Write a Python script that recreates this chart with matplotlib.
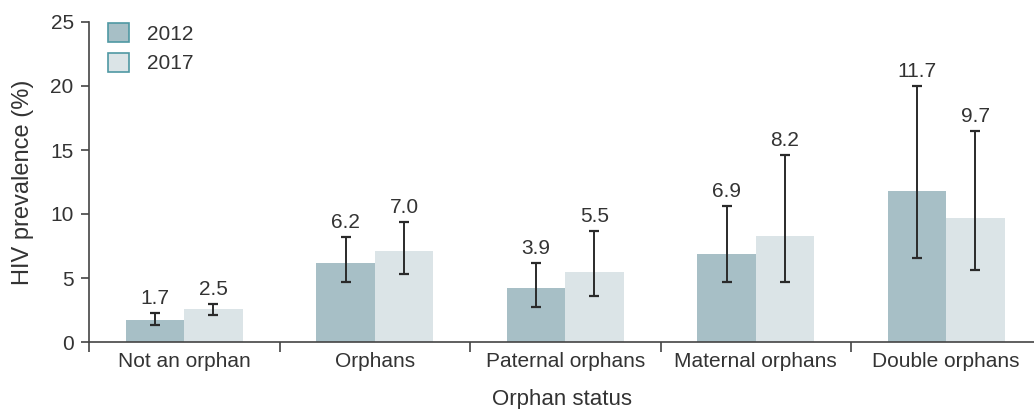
import matplotlib
matplotlib.use("Agg")
import matplotlib.pyplot as plt
import numpy as np

categories = ["Not an orphan", "Orphans", "Paternal orphans", "Maternal orphans", "Double orphans"]
years = ["2012", "2017"]
vals_2012 = [1.7, 6.2, 4.2, 6.85, 11.8]
vals_2017 = [2.55, 7.1, 5.5, 8.25, 9.7]
labels_2012 = ["1.7", "6.2", "3.9", "6.9", "11.7"]
labels_2017 = ["2.5", "7.0", "5.5", "8.2", "9.7"]
lo_2012 = [1.35, 4.7, 2.7, 4.65, 6.55]
hi_2012 = [2.3, 8.2, 6.2, 10.6, 20.0]
lo_2017 = [2.1, 5.35, 3.6, 4.7, 5.6]
hi_2017 = [3.0, 9.4, 8.7, 14.6, 16.5]

c2012 = "#a7bfc6"
c2017 = "#dbe4e7"
edge_leg = "#4f98a3"
txt = "#333333"
plt.rcParams['font.family'] = ['Liberation Sans', 'DejaVu Sans']

fig = plt.figure(figsize=(10.34, 4.09), dpi=100)
ax = fig.add_axes([89/1034, (409-342)/409, (1034-89)/1034, 320/409])

x = np.arange(len(categories))
w = 0.307
v12 = np.array(vals_2012); v17 = np.array(vals_2017)
ax.bar(x - w/2, v12, w, color=c2012, label=years[0])
ax.bar(x + w/2, v17, w, color=c2017, label=years[1])
err_kw = dict(fmt='none', ecolor='#2a2a2a', elinewidth=1.4, capsize=3.4, capthick=1.6)
ax.errorbar(x - w/2, v12, yerr=[v12 - np.array(lo_2012), np.array(hi_2012) - v12], **err_kw)
ax.errorbar(x + w/2, v17, yerr=[v17 - np.array(lo_2017), np.array(hi_2017) - v17], **err_kw)

fs = 15
for xi, h, lab in zip(x - w/2, hi_2012, labels_2012):
    ax.annotate(lab, (xi, h), xytext=(0, 3.5), textcoords='offset points', ha='center', va='bottom', fontsize=fs, color=txt)
for xi, h, lab in zip(x + w/2, hi_2017, labels_2017):
    ax.annotate(lab, (xi, h), xytext=(0, 3.5), textcoords='offset points', ha='center', va='bottom', fontsize=fs, color=txt)

ax.set_xlim(-0.5, -0.5 + (1034-89)/190.5)
ax.set_ylim(0, 25)
ax.set_yticks([0, 5, 10, 15, 20, 25])
ax.set_xticks(np.arange(-0.5, 4.0, 1.0))
ax.set_xticklabels([])
ax.set_xticks(x, minor=True)
ax.set_xticklabels(categories, minor=True)
ax.tick_params(axis='x', which='major', length=7.2, width=1.2, color='#444444')
ax.tick_params(axis='x', which='minor', length=0, pad=7, labelsize=fs, labelcolor=txt)
ax.tick_params(axis='y', length=6, width=1.2, color='#444444', pad=5, labelsize=fs, labelcolor=txt)
for s in ['top', 'right']:
    ax.spines[s].set_visible(False)
for s in ['left', 'bottom']:
    ax.spines[s].set_color('#444444')
    ax.spines[s].set_linewidth(1.2)
ax.spines['left'].set_bounds(0, 25)

ax.set_ylabel("HIV prevalence (%)", fontsize=17, color=txt, labelpad=12)
ax.set_xlabel("Orphan status", fontsize=16, color=txt, labelpad=13)

from matplotlib.patches import Patch
handles = [Patch(facecolor=c2012, edgecolor=edge_leg, linewidth=1.2), Patch(facecolor=c2017, edgecolor=edge_leg, linewidth=1.2)]
ax.legend(handles, years, loc='upper left', bbox_to_anchor=(0.0, 1.055), frameon=False,
          fontsize=fs, handlelength=1.0, handleheight=1.0, labelspacing=0.45, handletextpad=0.9,
          labelcolor=txt)

fig.savefig("out.png", dpi=100)
